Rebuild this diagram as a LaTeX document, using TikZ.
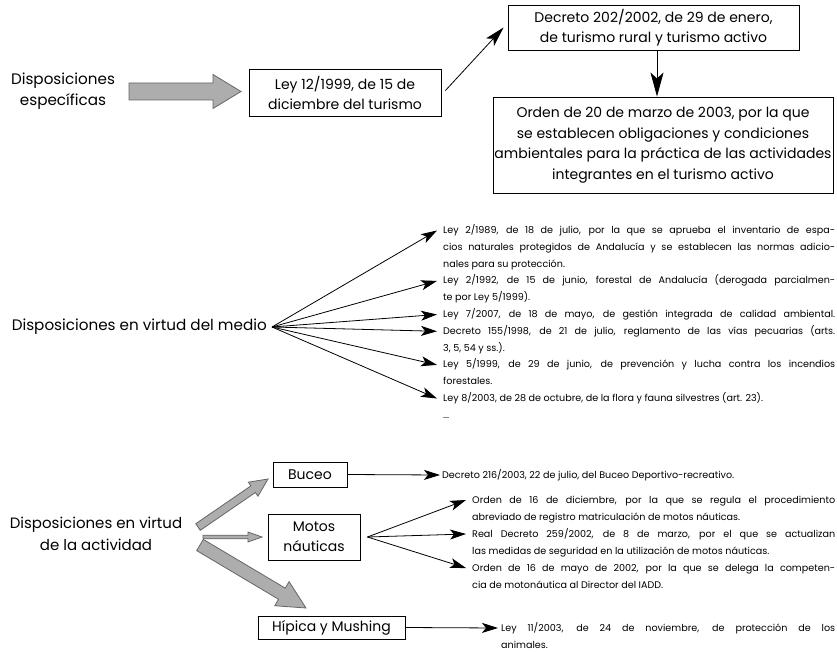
\documentclass[tikz,border=0pt]{standalone}
\usepackage{fontspec}
\setmainfont{Poppins}
\usetikzlibrary{arrows.meta,calc}
\newcommand\jl[2]{\makebox[#1][s]{#2}}
\newcommand\smallfnt{\fontsize{9.6}{16.8}\selectfont}
\newcommand\blockarrow[5]{%
  \path ($(#2)!#5!(#1)$) coordinate (bah);
  \draw[garrow] ($(#1)!#3!90:(#2)$) -- ($(bah)!#3!90:(#2)$) -- ($(bah)!#4!90:(#2)$) -- (#2)
     -- ($(bah)!#4!-90:(#2)$) -- ($(bah)!#3!-90:(#2)$) -- ($(#1)!#3!-90:(#2)$) -- cycle;}
\tikzset{
  box/.style={draw, line width=0.9pt, inner sep=0pt, align=center, font=\fontsize{14}{20}\selectfont},
  lbl/.style={inner sep=0pt, align=center, font=\fontsize{15.2}{21}\selectfont},
  conn/.style={line width=0.8pt, -{Stealth[length=16pt,width=10pt,inset=4pt]}},
  bigconn/.style={line width=0.8pt, -{Stealth[length=24pt,width=13pt,inset=6pt]}},
  garrow/.style={fill=black!32, draw=black!60, line width=0.8pt, line join=miter},
  txt/.style={inner sep=0pt, anchor=base west}
}
\begin{document}
\begin{tikzpicture}[x=1pt,y=-1pt]
\useasboundingbox (0,0) rectangle (837,652);
% ---------- top ----------
\node[lbl] (esp) at (63,91) {Disposiciones\\específicas};
\node[box, minimum width=192pt, minimum height=47pt] (ley) at (345,92.5) {Ley 12/1999, de 15 de\\diciembre del turismo};
\node[box, minimum width=291pt, minimum height=45pt] (decreto) at (653.5,27.5) {Decreto 202/2002, de 29 de enero,\\de turismo rural y turismo activo};
\node[box, minimum width=340pt, minimum height=96pt, font=\fontsize{14}{20.5}\selectfont] (orden) at (663,145) {Orden de 20 de marzo de 2003, por la que\\se establecen obligaciones y condiciones\\ambientales para la práctica de las actividades\\integrantes en el turismo activo};
\coordinate (ga1) at (129,91.5);
\coordinate (ga2) at (241,91.5);
\blockarrow{ga1}{ga2}{8.5pt}{17pt}{28pt}
\draw[conn, -{Stealth[length=20pt,width=11pt,inset=5pt]}] ($(ley.east)+(4,-2)$) -- ($(decreto.west)+(-4,0)$);
\coordinate (dv) at ($(decreto.south)+(3.5,0)$);
\draw[bigconn] (dv) -- (dv |- orden.north);
% ---------- middle ----------
\node[lbl, anchor=east] (medio) at (267,327) {Disposiciones en virtud del medio};
\coordinate (mf) at ($(medio.east)+(5,0)$);
\node[txt] (mtext) at (443,233.5) {\parbox[t]{392pt}{\smallfnt
\jl{392pt}{Ley 2/1989, de 18 de julio, por la que se aprueba el inventario de espa-}\\
\jl{392pt}{cios naturales protegidos de Andalucía y se establecen las normas adicio-}\\
nales para su protección.\\
\jl{392pt}{Ley 2/1992, de 15 de junio, forestal de Andalucía (derogada parcialmen-}\\
te por Ley 5/1999).\\
\jl{392pt}{Ley 7/2007, de 18 de mayo, de gestión integrada de calidad ambiental.}\\
\jl{392pt}{Decreto 155/1998, de 21 de julio, reglamento de las vías pecuarias (arts.}\\
3, 5, 54 y ss.).\\
\jl{392pt}{Ley 5/1999, de 29 de junio, de prevención y lucha contra los incendios}\\
forestales.\\
Ley 8/2003, de 28 de octubre, de la flora y fauna silvestres (art. 23).\\
...}};
\coordinate (m1) at (437,230.5);
\coordinate (m2) at (437,280.9);
\coordinate (m3) at (437,314.5);
\coordinate (m4) at (437,331.3);
\coordinate (m5) at (437,364.9);
\coordinate (m6) at (437,398.5);
\foreach \t in {m1,m2,m3,m4,m5,m6} \draw[conn] (mf) -- (\t);
% ---------- bottom ----------
\node[lbl, font=\fontsize{15}{22}\selectfont] (act) at (96,534) {Disposiciones en virtud\\de la actividad};
\node[box, minimum width=74pt, minimum height=25pt] (buceo) at (310,474.5) {Buceo};
\node[box, minimum width=92pt, minimum height=46pt] (motos) at (314,537) {Motos\\náuticas};
\node[box, minimum width=147pt, minimum height=23pt] (hipica) at (331.5,627.5) {Hípica y Mushing};
\coordinate (b1a) at (198,527);
\coordinate (b1b) at (268,479);
\blockarrow{b1a}{b1b}{4pt}{8.5pt}{18pt}
\coordinate (b2a) at (203,537);
\coordinate (b2b) at (262,537);
\blockarrow{b2a}{b2b}{1.8pt}{5pt}{14pt}
\coordinate (b3a) at (200,545);
\coordinate (b3b) at (306,608);
\blockarrow{b3a}{b3b}{6.5pt}{14pt}{28pt}
\node[txt] (btext) at (442,478) {\fontsize{9.6}{16}\selectfont Decreto 216/2003, 22 de julio, del Buceo Deportivo-recreativo.};
\draw[conn] (buceo.east) -- ($(btext.base west)+(-2,-3)$);
\node[txt] (mottext) at (472,503) {\parbox[t]{363pt}{\fontsize{9.6}{17}\selectfont
\jl{363pt}{Orden de 16 de diciembre, por la que se regula el procedimiento}\\
abreviado de registro matriculación de motos náuticas.\\
\jl{363pt}{Real Decreto 259/2002, de 8 de marzo, por el que se actualizan}\\
las medidas de seguridad en la utilización de motos náuticas.\\
\jl{363pt}{Orden de 16 de mayo de 2002, por la que se delega la competen-}\\
cia de motonáutica al Director del IADD.}};
\coordinate (mf2) at ($(motos.east)+(7,0)$);
\coordinate (t1) at (466,500);
\coordinate (t2) at (466,534);
\coordinate (t3) at (466,568);
\foreach \t in {t1,t2,t3} \draw[conn] (mf2) -- (\t);
\node[txt] (htext) at (501,631) {\parbox[t]{334pt}{\fontsize{9.6}{17}\selectfont
\jl{334pt}{Ley 11/2003, de 24 de noviembre, de protección de los}\\
animales.}};
\draw[conn] (hipica.east) -- ($(htext.base west)+(-3,-3)$);
\end{tikzpicture}
\end{document}
